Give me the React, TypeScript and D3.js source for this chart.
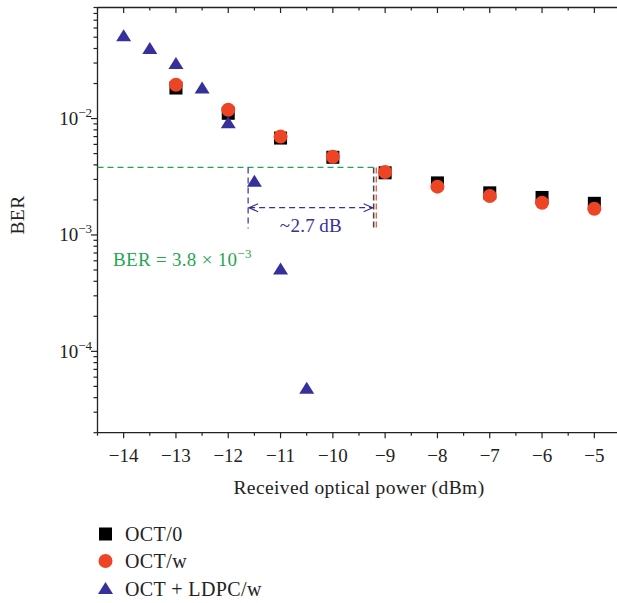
import React, { useEffect, useRef } from 'react';
import * as d3 from 'd3';

// Received optical power (dBm)
const powerOct = [-13, -12, -11, -10, -9, -8, -7, -6, -5];
const berOct0 = [0.0183, 0.0111, 0.0068, 0.00465, 0.00342, 0.0028, 0.0023, 0.0021, 0.00187];
const berOctW = [0.0195, 0.0119, 0.0070, 0.0047, 0.00347, 0.0026, 0.00216, 0.00189, 0.00168];
const powerLdpc = [-14, -13.5, -13, -12.5, -12, -11.5, -11, -10.5];
const berLdpc = [0.051, 0.0396, 0.0294, 0.0181, 0.0091, 0.00286, 0.000504, 0.0000478];
const xTicks = [-14, -13, -12, -11, -10, -9, -8, -7, -6, -5];
const yTickExps = [-2, -3, -4];
const berThreshold = 3.8e-3;
const ldpcCross = -11.62;
const octCross = -9.22;
const octWCross = -9.17;
const legendLabels = ['OCT/0', 'OCT/w', 'OCT + LDPC/w'];

const RED = '#ee4426';
const BLUE = '#36309a';
const GREEN = '#1fa653';
const FONT = '"Liberation Serif", "DejaVu Serif", serif';

const App = () => {
  const ref = useRef<SVGSVGElement>(null);

  useEffect(() => {
    const svg = d3.select(ref.current);
    svg.selectAll('*').remove();

    const left = 97.5;
    const top = 7.5;
    const bottom = 432.7;

    const x = d3.scaleLinear().domain([-14.5, -4.5]).range([left, left + 10 * 52.3]);
    const y = d3.scaleLog().domain([2e-5, 0.09]).range([bottom, top]);

    // frame lines
    svg.append('line').attr('x1', left).attr('x2', 617).attr('y1', top).attr('y2', top)
      .attr('stroke', '#222').attr('stroke-width', 1.3);
    svg.append('line').attr('x1', left).attr('x2', 617).attr('y1', bottom).attr('y2', bottom)
      .attr('stroke', '#222').attr('stroke-width', 1.3);
    svg.append('line').attr('x1', left).attr('x2', left).attr('y1', top).attr('y2', bottom)
      .attr('stroke', '#222').attr('stroke-width', 1.3);

    // x ticks (bottom outward, top inward), majors at integers, minors at halves
    const halves = d3.range(-14.5, -4.4, 0.5);
    halves.forEach(v => {
      const major = Number.isInteger(v);
      const len = major ? 5.5 : 3;
      svg.append('line').attr('x1', x(v)).attr('x2', x(v)).attr('y1', bottom).attr('y2', bottom + len)
        .attr('stroke', '#222').attr('stroke-width', 1.2);
      svg.append('line').attr('x1', x(v)).attr('x2', x(v)).attr('y1', top).attr('y2', top + len)
        .attr('stroke', '#222').attr('stroke-width', 1.2);
    });

    svg.append('g').selectAll('text').data(xTicks).enter().append('text')
      .attr('x', d => x(d))
      .attr('y', 462)
      .attr('text-anchor', 'middle')
      .style('font-family', FONT)
      .style('font-size', '19px')
      .attr('fill', '#222')
      .text(d => '\u2212' + Math.abs(d));

    // y ticks (log, outward)
    const minors: number[] = [];
    for (let e = -5; e <= -2; e++) {
      for (let m = 1; m <= 9; m++) {
        const v = m * Math.pow(10, e);
        if (v >= 2e-5 && v <= 0.09) minors.push(v);
      }
    }
    minors.forEach(v => {
      const major = Math.abs(Math.log10(v) - Math.round(Math.log10(v))) < 1e-9;
      svg.append('line').attr('x1', left - (major ? 6.5 : 4)).attr('x2', left)
        .attr('y1', y(v)).attr('y2', y(v)).attr('stroke', '#222').attr('stroke-width', 1.2);
    });

    yTickExps.forEach(e => {
      const t = svg.append('text')
        .attr('x', 92)
        .attr('y', y(Math.pow(10, e)) + 6.5)
        .attr('text-anchor', 'end')
        .style('font-family', FONT)
        .style('font-size', '19px')
        .attr('fill', '#222');
      t.append('tspan').text('10');
      t.append('tspan').attr('dy', -8).style('font-size', '13px').text('\u2212' + Math.abs(e));
    });

    // axis titles
    svg.append('text')
      .attr('transform', 'translate(24, 215) rotate(-90)')
      .attr('text-anchor', 'middle')
      .style('font-family', FONT)
      .style('font-size', '19.5px')
      .style('letter-spacing', '0.4px')
      .attr('fill', '#222')
      .text('BER');

    svg.append('text')
      .attr('x', 359)
      .attr('y', 494)
      .attr('text-anchor', 'middle')
      .style('font-family', FONT)
      .style('font-size', '19.5px')
      .style('letter-spacing', '0.4px')
      .attr('fill', '#222')
      .text('Received optical power (dBm)');

    // threshold annotation
    const yTh = y(berThreshold);
    const yLow = 228.5;
    svg.append('line').attr('x1', left).attr('x2', x(octCross)).attr('y1', yTh).attr('y2', yTh)
      .attr('stroke', GREEN).attr('stroke-width', 1.2).attr('stroke-dasharray', '6,4');
    svg.append('line').attr('x1', x(ldpcCross)).attr('x2', x(ldpcCross)).attr('y1', yTh).attr('y2', yLow)
      .attr('stroke', BLUE).attr('stroke-width', 1.2).attr('stroke-dasharray', '6,4');
    svg.append('line').attr('x1', x(octCross)).attr('x2', x(octCross)).attr('y1', yTh).attr('y2', yLow)
      .attr('stroke', '#444').attr('stroke-width', 1.5).attr('stroke-dasharray', '6,3');
    svg.append('line').attr('x1', x(octWCross)).attr('x2', x(octWCross)).attr('y1', yTh).attr('y2', yLow)
      .attr('stroke', RED).attr('stroke-width', 1.2).attr('stroke-dasharray', '6,3');

    const yArrow = 207.7;
    const ax1 = x(ldpcCross) + 1;
    const ax2 = x(octCross) - 1;
    svg.append('line').attr('x1', ax1).attr('x2', ax2).attr('y1', yArrow).attr('y2', yArrow)
      .attr('stroke', BLUE).attr('stroke-width', 1.2).attr('stroke-dasharray', '6,4');
    svg.append('path').attr('d', `M${ax1 + 9},${yArrow - 4}L${ax1},${yArrow}L${ax1 + 9},${yArrow + 4}`)
      .attr('fill', 'none').attr('stroke', BLUE).attr('stroke-width', 1.2);
    svg.append('path').attr('d', `M${ax2 - 9},${yArrow - 4}L${ax2},${yArrow}L${ax2 - 9},${yArrow + 4}`)
      .attr('fill', 'none').attr('stroke', BLUE).attr('stroke-width', 1.2);

    svg.append('text')
      .attr('x', (x(ldpcCross) + x(octCross)) / 2)
      .attr('y', 232)
      .attr('text-anchor', 'middle')
      .style('font-family', FONT)
      .style('font-size', '19px')
      .style('letter-spacing', '0.3px')
      .attr('fill', BLUE)
      .text('~2.7\u2009dB');

    const th = svg.append('text')
      .attr('x', 113)
      .attr('y', 266)
      .style('font-family', FONT)
      .style('font-size', '19px')
      .style('letter-spacing', '0.3px')
      .attr('fill', GREEN);
    th.append('tspan').text('BER = 3.8 \u00d7 10');
    th.append('tspan').attr('dy', -8).style('font-size', '13px').text('\u22123');

    // markers
    svg.append('g').selectAll('rect').data(powerOct.map((p, i) => [p, berOct0[i]])).enter().append('rect')
      .attr('x', d => x(d[0]) - 6.5)
      .attr('y', d => y(d[1]) - 6.5)
      .attr('width', 13)
      .attr('height', 13)
      .attr('fill', '#000');

    svg.append('g').selectAll('circle').data(powerOct.map((p, i) => [p, berOctW[i]])).enter().append('circle')
      .attr('cx', d => x(d[0]))
      .attr('cy', d => y(d[1]))
      .attr('r', 7)
      .attr('fill', RED);

    const tri = (cx: number, cy: number) => `M${cx},${cy - 7}L${cx + 7.5},${cy + 5}L${cx - 7.5},${cy + 5}Z`;
    svg.append('g').selectAll('path').data(powerLdpc.map((p, i) => [p, berLdpc[i]])).enter().append('path')
      .attr('d', d => tri(x(d[0]), y(d[1])))
      .attr('fill', BLUE);

    // legend
    const lg = svg.append('g');
    const rowY = [534, 561, 589];
    lg.append('rect').attr('x', 99).attr('y', rowY[0] - 6.5).attr('width', 13).attr('height', 13).attr('fill', '#000');
    lg.append('circle').attr('cx', 105.5).attr('cy', rowY[1]).attr('r', 7).attr('fill', RED);
    lg.append('path').attr('d', tri(105.5, rowY[2])).attr('fill', BLUE);
    lg.selectAll('text').data(legendLabels).enter().append('text')
      .attr('x', 125)
      .attr('y', (d, i) => rowY[i] + 7)
      .style('font-family', FONT)
      .style('font-size', '20px')
      .style('letter-spacing', '0.4px')
      .attr('fill', '#222')
      .text(d => d);
  }, []);

  return (
    <div style={{ position: 'absolute', left: 0, top: 0, width: 617, height: 603, overflow: 'hidden', background: '#fff' }}>
      <svg ref={ref} width={617} height={603}></svg>
    </div>
  );
};

export default App;
